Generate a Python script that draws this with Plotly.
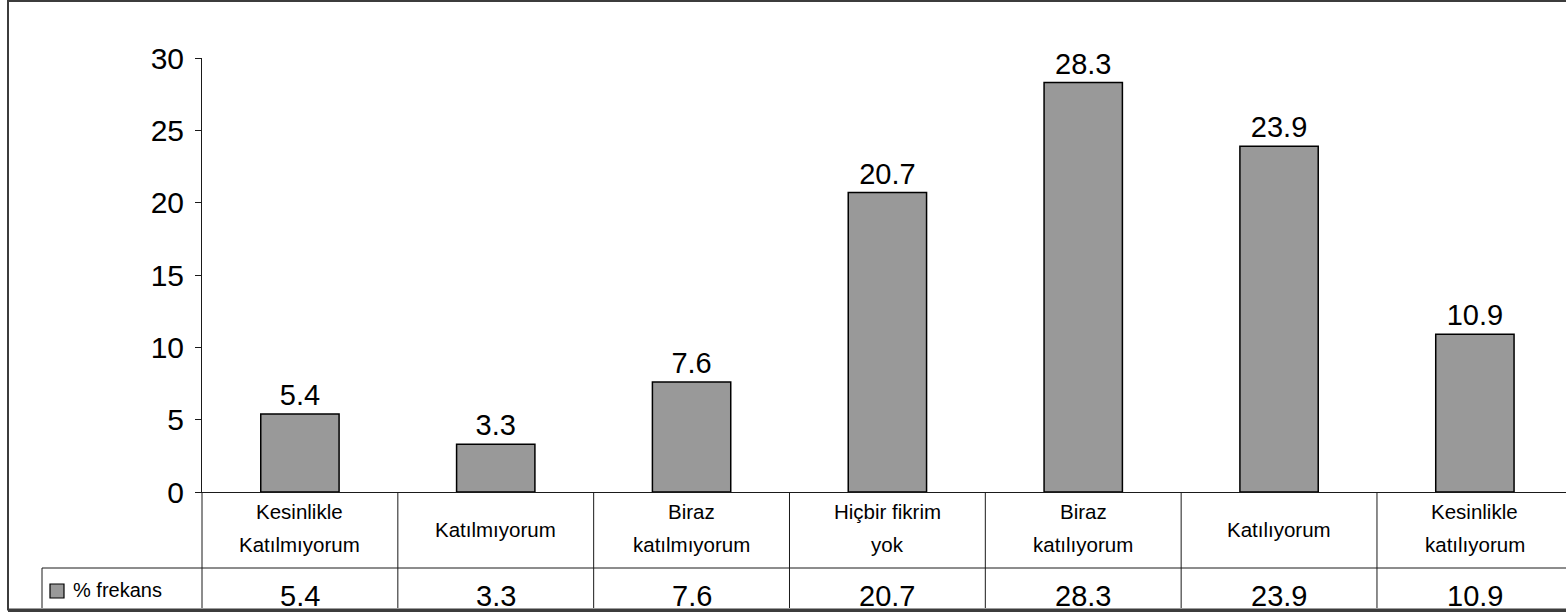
import plotly.graph_objects as go

# Survey responses (Likert scale) and their percentage frequencies
category_lines = [
    ["Kesinlikle", "Katılmıyorum"],
    ["Katılmıyorum"],
    ["Biraz", "katılmıyorum"],
    ["Hiçbir fikrim", "yok"],
    ["Biraz", "katılıyorum"],
    ["Katılıyorum"],
    ["Kesinlikle", "katılıyorum"],
]
categories = [" ".join(lines) for lines in category_lines]
values = [5.4, 3.3, 7.6, 20.7, 28.3, 23.9, 10.9]
series_name = "% frekans"
y_ticks = [0, 5, 10, 15, 20, 25, 30]

FONT = "Liberation Sans, Arial, sans-serif"
BAR_FILL = "#999999"
LINE = "#1a1a1a"
BORDER = "#3c3c3c"

W, H = 1566, 612
L, R, T, B = 202, 0, 58, 120
PW, PH = W - L - R, H - T - B
BAND = 195.83  # pixel width of one category band


def px_x(p):
    return (p - L) / PW


def px_y(p):
    return (H - B - p) / PH


fig = go.Figure()
fig.add_trace(go.Bar(
    x=categories,
    y=values,
    name=series_name,
    marker=dict(color=BAR_FILL, line=dict(color="#000000", width=1.5)),
    text=[f"{v:.1f}" for v in values],
    textposition="outside",
    textfont=dict(family=FONT, size=29, color="#000000"),
    cliponaxis=False,
    width=0.4,
))

x_right = -0.5 + PW / BAND

shapes = []
# data table: vertical separators between categories
for k in range(len(categories) - 1):
    shapes.append(dict(type="line", xref="x", yref="paper",
                       x0=k + 0.5, x1=k + 0.5, y0=0, y1=px_y(608),
                       line=dict(color=LINE, width=1)))
# left edge of the table body (continuation of the value axis)
shapes.append(dict(type="line", xref="paper", yref="paper",
                   x0=0, x1=0, y0=0, y1=px_y(608),
                   line=dict(color=LINE, width=1)))
# row separator between category names and values, incl. legend cell
shapes.append(dict(type="line", xref="paper", yref="paper",
                   x0=px_x(42), x1=1, y0=px_y(568), y1=px_y(568),
                   line=dict(color=LINE, width=1)))
# legend cell left edge
shapes.append(dict(type="line", xref="paper", yref="paper",
                   x0=px_x(42), x1=px_x(42), y0=px_y(568), y1=px_y(608),
                   line=dict(color=LINE, width=1)))
# legend key swatch
shapes.append(dict(type="rect", xref="paper", yref="paper",
                   x0=px_x(50), x1=px_x(64), y0=px_y(584), y1=px_y(598),
                   fillcolor=BAR_FILL, line=dict(color="#000000", width=1.2)))
# chart area border
shapes.append(dict(type="rect", xref="paper", yref="paper",
                   x0=px_x(8), x1=px_x(1580), y0=px_y(1), y1=px_y(609.5),
                   line=dict(color=BORDER, width=2)))
shapes.append(dict(type="line", xref="paper", yref="paper",
                   x0=px_x(8), x1=1, y0=px_y(610.5), y1=px_y(610.5),
                   line=dict(color=BORDER, width=3)))

annotations = []
for cat, lines, v in zip(categories, category_lines, values):
    if len(lines) == 1:
        ys = [529]
    else:
        ys = [511, 544]
    for line_text, yp in zip(lines, ys):
        annotations.append(dict(x=cat, xref="x", y=px_y(yp), yref="paper",
                                text=line_text, showarrow=False,
                                xanchor="center", yanchor="middle",
                                font=dict(family=FONT, size=20.5, color="#000000")))
    annotations.append(dict(x=cat, xref="x", y=px_y(596), yref="paper",
                            text=f"{v:.1f}", showarrow=False,
                            xanchor="center", yanchor="middle",
                            font=dict(family=FONT, size=29, color="#000000")))
annotations.append(dict(x=px_x(71), xref="paper", y=px_y(590), yref="paper",
                        text=series_name, showarrow=False,
                        xanchor="left", yanchor="middle",
                        font=dict(family=FONT, size=20, color="#000000")))

fig.update_layout(
    width=W, height=H,
    margin=dict(l=L, r=R, t=T, b=B, pad=0),
    paper_bgcolor="#ffffff",
    plot_bgcolor="#ffffff",
    showlegend=False,
    bargap=0.6,
    shapes=shapes,
    annotations=annotations,
    xaxis=dict(
        type="category",
        range=[-0.5, x_right],
        showticklabels=False,
        ticks="",
        showgrid=False,
        zeroline=False,
        showline=True,
        linecolor=LINE,
        linewidth=1,
        fixedrange=True,
    ),
    yaxis=dict(
        range=[0, 30],
        tickvals=y_ticks,
        ticks="outside",
        ticklen=6,
        tickcolor=LINE,
        tickwidth=1,
        showgrid=False,
        zeroline=False,
        showline=True,
        linecolor=LINE,
        linewidth=1,
        ticklabelstandoff=5,
        tickfont=dict(family=FONT, size=30, color="#000000"),
        fixedrange=True,
    ),
)

fig.write_html("out.html")
